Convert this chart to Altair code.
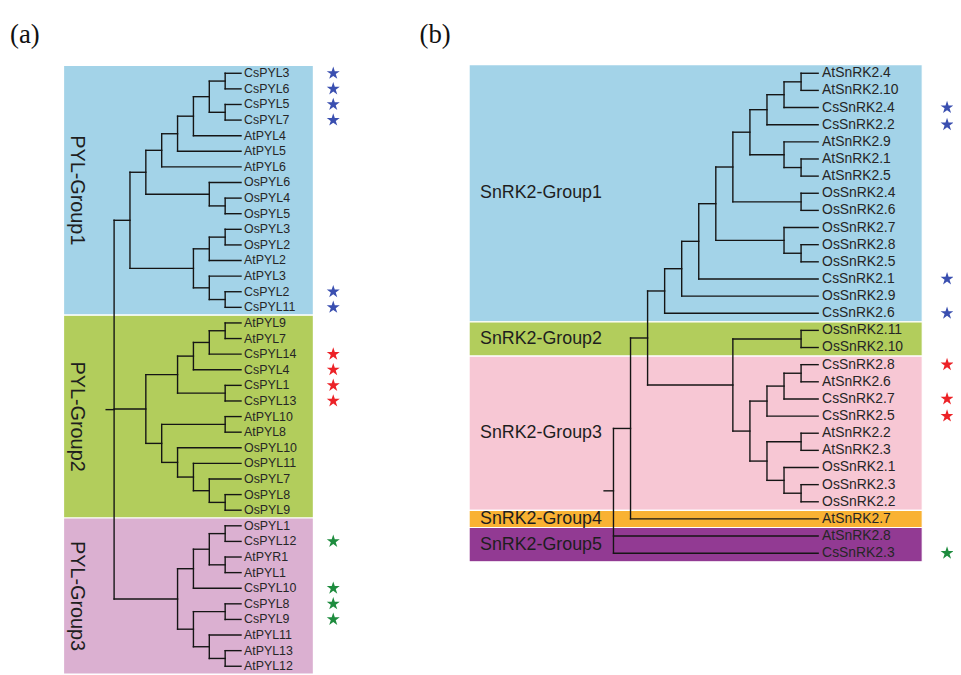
import altair as alt
import pandas as pd

# ---------------- Panel (a): PYL cladogram ----------------
# nested nodes: [node height (levels from tips), child, child, ...]; leaves are names
pyl_group1 = [7,
    [6,
        [5, [4, [3, [2, [1, "CsPYL3", "CsPYL6"], [1, "CsPYL5", "CsPYL7"]], "AtPYL4"], "AtPYL5"], "AtPYL6"],
        [2, "OsPYL6", [1, "OsPYL4", "OsPYL5"]]],
    [3, [2, [1, "OsPYL3", "OsPYL2"], "AtPYL2"], [2, "AtPYL3", [1, "CsPYL2", "CsPYL11"]]]]
pyl_group2 = [6,
    [4, [3, [2, [1, "AtPYL9", "AtPYL7"], "CsPYL14"], "CsPYL4"], [1, "CsPYL1", "CsPYL13"]],
    [5, [1, "AtPYL10", "AtPYL8"], [4, "OsPYL10", [3, "OsPYL11", [2, "OsPYL7", [1, "OsPYL8", "OsPYL9"]]]]]]
pyl_group3 = [4,
    [3, [2, [1, "OsPYL1", "CsPYL12"], [1, "AtPYR1", "AtPYL1"]], "CsPYL10"],
    [3, [1, "CsPYL8", "CsPYL9"], [2, "AtPYL11", [1, "AtPYL13", "AtPYL12"]]]]
pyl_tree = [8, pyl_group1, pyl_group2, pyl_group3]
pyl_root_stub = 8.5
pyl_groups = ["PYL-Group1", "PYL-Group2", "PYL-Group3"]
pyl_group_sizes = [16, 13, 10]
pyl_group_colors = ["#a3d3e8", "#b2cd5c", "#dbb0d1"]
pyl_star_blue = ["CsPYL3", "CsPYL6", "CsPYL5", "CsPYL7", "CsPYL2", "CsPYL11"]
pyl_star_red = ["CsPYL14", "CsPYL4", "CsPYL1", "CsPYL13"]
pyl_star_green = ["CsPYL12", "CsPYL10", "CsPYL8", "CsPYL9"]

# ---------------- Panel (b): SnRK2 cladogram ----------------
snrk_group1 = [9,
    [8,
        [7,
            [6,
                [5,
                    [4, [3, [2, [1, "AtSnRK2.4", "AtSnRK2.10"], "CsSnRK2.4"], "CsSnRK2.2"],
                        [2, "AtSnRK2.9", [1, "AtSnRK2.1", "AtSnRK2.5"]]],
                    [1, "OsSnRK2.4", "OsSnRK2.6"]],
                [2, "OsSnRK2.7", [1, "OsSnRK2.8", "OsSnRK2.5"]]],
            "CsSnRK2.1"],
        "OsSnRK2.9"],
    "CsSnRK2.6"]
snrk_group23 = [5, [1, "OsSnRK2.11", "OsSnRK2.10"],
    [4, [3, [2, [1, "CsSnRK2.8", "AtSnRK2.6"], "CsSnRK2.7"], "CsSnRK2.5"],
        [3, [1, "AtSnRK2.2", "AtSnRK2.3"], [2, "OsSnRK2.1", [1, "OsSnRK2.3", "OsSnRK2.2"]]]]]
snrk_tree = [12, [11, [10, snrk_group1, snrk_group23], "AtSnRK2.7"], "AtSnRK2.8", "CsSnRK2.3"]
snrk_root_stub = 12.55
snrk_groups = ["SnRK2-Group1", "SnRK2-Group2", "SnRK2-Group3", "SnRK2-Group4", "SnRK2-Group5"]
snrk_group_sizes = [15, 2, 9, 1, 2]
snrk_group_colors = ["#a3d3e8", "#b2cd5c", "#f7c7d4", "#f9b233", "#923a93"]
snrk_star_blue = ["CsSnRK2.4", "CsSnRK2.2", "CsSnRK2.1", "CsSnRK2.6"]
snrk_star_red = ["CsSnRK2.8", "CsSnRK2.7", "CsSnRK2.5"]
snrk_star_green = ["CsSnRK2.3"]

star_colors = {"blue": "#3a4fb0", "red": "#ec2227", "green": "#1e8c3e"}
STAR = "M0,-1L0.2245,-0.309L0.951,-0.309L0.363,0.118L0.588,0.809L0,0.382L-0.588,0.809L-0.363,0.118L-0.951,-0.309L-0.2245,-0.309Z"
FONT = "Liberation Sans"


def layout(tree, stub):
    leaves, segs = [], []

    def walk(node):
        if isinstance(node, str):
            y = len(leaves)
            leaves.append(node)
            return 0, y
        h = node[0]
        kids = [walk(c) for c in node[1:]]
        for kh, ky in kids:
            segs.append(dict(x=h, x2=kh, y=ky, y2=ky))
        segs.append(dict(x=h, x2=h, y=kids[0][1], y2=kids[-1][1]))
        return h, (kids[0][1] + kids[-1][1]) / 2

    rh, ry = walk(tree)
    segs.append(dict(x=stub, x2=rh, y=ry, y2=ry))
    return leaves, pd.DataFrame(segs)


def bands(names, sizes, colors):
    rows, start = [], 0
    for n, s, c in zip(names, sizes, colors):
        rows.append(dict(name=n, y0=start - 0.5, y1=start + s - 0.5, ym=start + (s - 1) / 2, color=c))
        start += s
    return pd.DataFrame(rows)


def stars(leaves, blue, red, green):
    rows = []
    for lst, col in ((blue, "blue"), (red, "red"), (green, "green")):
        for n in lst:
            rows.append(dict(y=leaves.index(n), color=star_colors[col]))
    return pd.DataFrame(rows)


def panel(tree, stub, xs, ys, band_df, star_df, band_x, star_x, leaf_font, leaf_dx,
          group_font, group_x, group_angle, group_align):
    leaves, seg_df = layout(tree, stub)
    leaf_df = pd.DataFrame(dict(name=leaves, y=range(len(leaves)), x=0))
    X = lambda f: alt.X(f, scale=xs, axis=None)
    Y = lambda f: alt.Y(f, scale=ys, axis=None)
    rect = alt.Chart(band_df).mark_rect(stroke="white", strokeWidth=1.2).encode(
        x=alt.value(band_x[0]), x2=alt.value(band_x[1]),
        y=Y("y0:Q"), y2="y1:Q", color=alt.Color("color:N", scale=None))
    glabel = alt.Chart(band_df).mark_text(
        font=FONT, fontSize=group_font, angle=group_angle, align=group_align,
        baseline="middle", color="#1e1e1e").encode(
        x=alt.value(group_x), y=Y("ym:Q"), text="name:N")
    rules = alt.Chart(seg_df).mark_rule(color="#151515", strokeWidth=1.4, strokeCap="square").encode(
        x=X("x:Q"), x2="x2:Q", y=Y("y:Q"), y2="y2:Q")
    text = alt.Chart(leaf_df).mark_text(
        font=FONT, fontSize=leaf_font, align="left", baseline="middle", dx=leaf_dx, color="#262626").encode(
        x=X("x:Q"), y=Y("y:Q"), text="name:N")
    star = alt.Chart(star_df).mark_point(shape=STAR, filled=True, size=190, opacity=1).encode(
        x=alt.value(star_x), y=Y("y:Q"), color=alt.Color("color:N", scale=None))
    return [rect, glabel, rules, text, star]


# scales (svg coordinates = page coordinates - 8)
xa = alt.Scale(domain=[0, 8], range=[235, 107])
ya = alt.Scale(domain=[0, 38], range=[63, 661])
xb = alt.Scale(domain=[0, 12], range=[817, 610.6])
yb = alt.Scale(domain=[0, 28], range=[63, 547])

pyl_leaves, _ = layout(pyl_tree, pyl_root_stub)
snrk_leaves, _ = layout(snrk_tree, snrk_root_stub)

layers_a = panel(pyl_tree, pyl_root_stub, xa, ya,
                 bands(pyl_groups, pyl_group_sizes, pyl_group_colors),
                 stars(pyl_leaves, pyl_star_blue, pyl_star_red, pyl_star_green),
                 (56, 308), 328, 12.5, 3, 20, 70, 90, "center")
layers_b = panel(snrk_tree, snrk_root_stub, xb, yb,
                 bands(snrk_groups, snrk_group_sizes, snrk_group_colors),
                 stars(snrk_leaves, snrk_star_blue, snrk_star_red, snrk_star_green),
                 (465, 922), 947, 14, 4, 18, 476, 0, "left")

panel_labels = pd.DataFrame(dict(label=["(a)", "(b)"], px=[2, 415]))
plabel = alt.Chart(panel_labels).mark_text(
    font="Liberation Serif", fontSize=27, align="left", baseline="middle", color="#111").encode(
    x=alt.X("px:Q", scale=alt.Scale(domain=[0, 953], range=[0, 953]), axis=None),
    y=alt.value(24), text="label:N")

chart = alt.layer(*layers_a, *layers_b, plabel).resolve_scale(
    x="independent", y="independent", color="independent"
).properties(
    width=953, height=667, padding=0,
    autosize=alt.AutoSizeParams(type="none")
).configure_view(stroke=None)

chart.save("out.html", embed_options={"renderer": "svg", "actions": False})
